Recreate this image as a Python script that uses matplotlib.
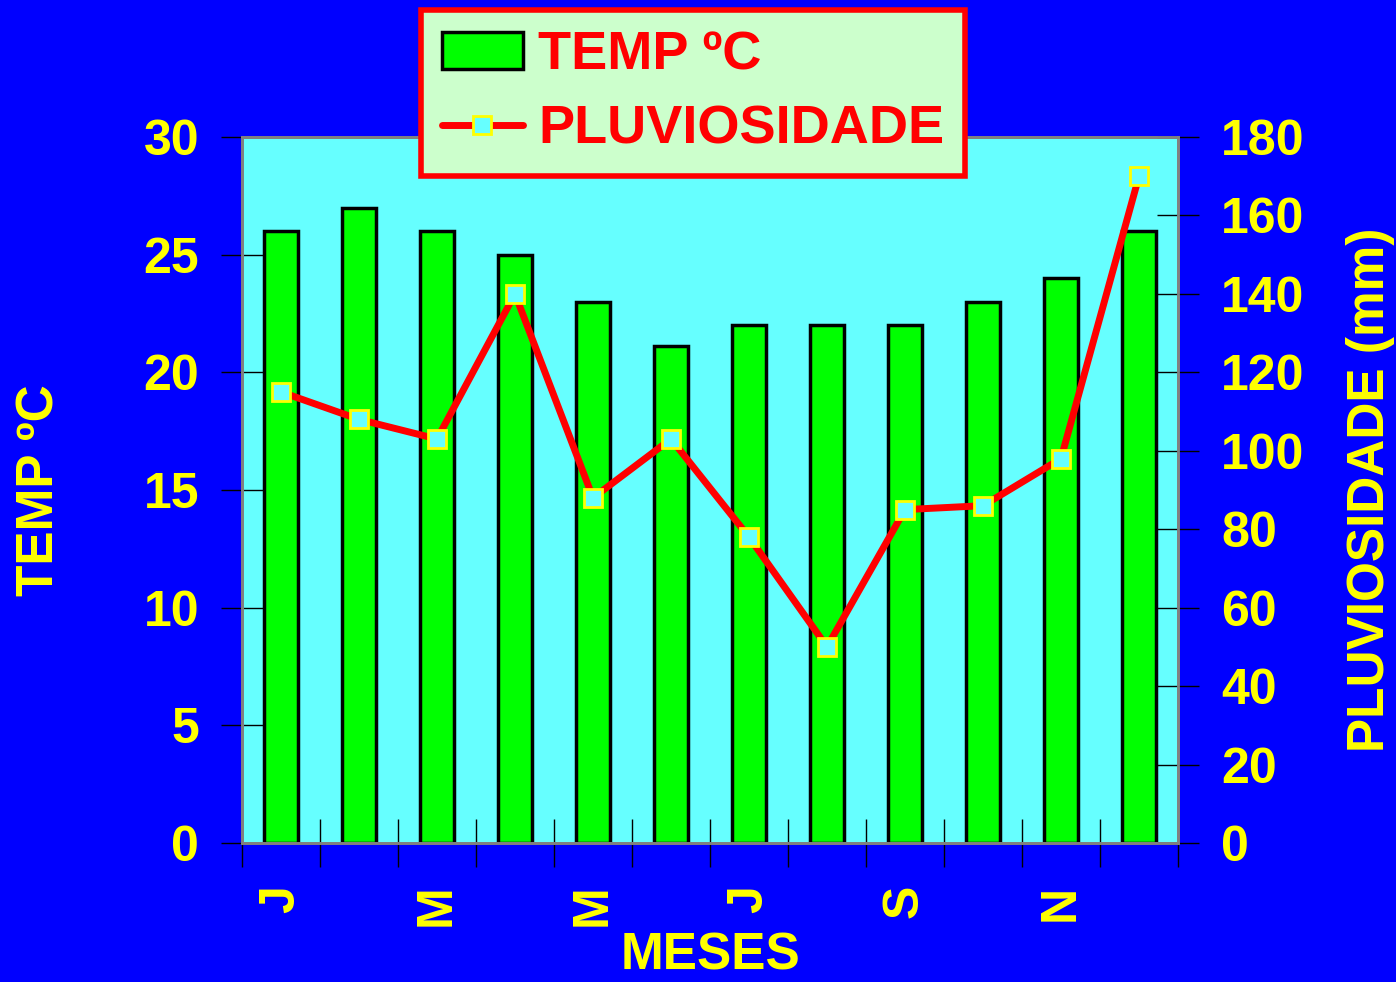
import numpy as np
import matplotlib.pyplot as plt
from matplotlib.patches import Patch
from matplotlib.lines import Line2D

plt.rcParams['font.family'] = ['Liberation Sans', 'DejaVu Sans']
plt.rcParams['font.weight'] = 'bold'
plt.rcParams['axes.labelweight'] = 'bold'

# monthly data
months = ['J', 'F', 'M', 'A', 'M', 'J', 'J', 'A', 'S', 'O', 'N', 'D']
temp = [26, 27, 26, 25, 23, 21.1, 22, 22, 22, 23, 24, 26]
rain = [115, 108, 103, 140, 88, 103, 78, 50, 85, 86, 98, 170]
shown_labels = ['J', 'M', 'M', 'J', 'S', 'N']

YEL = '#ffff00'
BG = '#0000ff'

fig = plt.figure(figsize=(13.96, 9.82), dpi=100, facecolor=BG)
ax = fig.add_axes([242 / 1396, 1 - 843 / 982, 936 / 1396, 706 / 982])
ax.set_facecolor('#66ffff')

x = np.arange(len(months))
ax.bar(x, temp, width=0.43, color='#00ff00', edgecolor='black', linewidth=2.5, zorder=2)
ax.set_xlim(-0.5, 11.5)
ax.set_ylim(0, 30)
ax.set_yticks(range(0, 31, 5))

ax2 = ax.twinx()
ax2.plot(x, rain, color='red', linewidth=5, marker='s', markersize=13,
         markerfacecolor='#66ffff', markeredgecolor=YEL, markeredgewidth=2,
         solid_capstyle='round', zorder=3)
ax2.set_ylim(0, 180)
ax2.set_yticks(range(0, 181, 20))

for a in (ax, ax2):
    for s in a.spines.values():
        s.set_color('#808080')
        s.set_linewidth(2)
    a.tick_params(axis='y', direction='inout', length=30, width=1, color='black',
                  labelsize=36, labelcolor=YEL, pad=16)

ax.set_xticks(np.arange(-0.5, 12, 1))
ax.set_xticklabels([])
ax.tick_params(axis='x', which='major', direction='inout', length=34, width=1, color='black')
ax.set_xticks(x[::2], minor=True)
ax.set_xticklabels(shown_labels, minor=True, rotation=90)
ax.tick_params(axis='x', which='minor', length=0, labelsize=36, labelcolor=YEL, pad=30)

ax.set_ylabel('TEMP ºC', fontsize=37, color=YEL, labelpad=57)
ax2.set_ylabel('PLUVIOSIDADE (mm)', fontsize=37, color=YEL, labelpad=30)
ax.set_xlabel('MESES', fontsize=37, color=YEL, labelpad=4)

handles = [
    Patch(facecolor='#00ff00', edgecolor='black', linewidth=2.5),
    Line2D([0], [0], color='red', linewidth=5, marker='s', markersize=13,
           markerfacecolor='#66ffff', markeredgecolor=YEL, markeredgewidth=2,
           solid_capstyle='round'),
]
leg = fig.legend(handles, ['TEMP ºC', 'PLUVIOSIDADE'], loc='upper left',
                 bbox_to_anchor=(421 / 1396, 1 - 10 / 982), borderaxespad=0,
                 fontsize=39, fancybox=False, framealpha=1, facecolor='#ccffcc',
                 edgecolor='red', handlelength=1.5, handleheight=0.65,
                 borderpad=0.38, labelspacing=0.45, handletextpad=0.28)
leg.get_frame().set_linewidth(4)
for t in leg.get_texts():
    t.set_color('red')

fig.savefig('out.png', dpi=100, facecolor=BG)
